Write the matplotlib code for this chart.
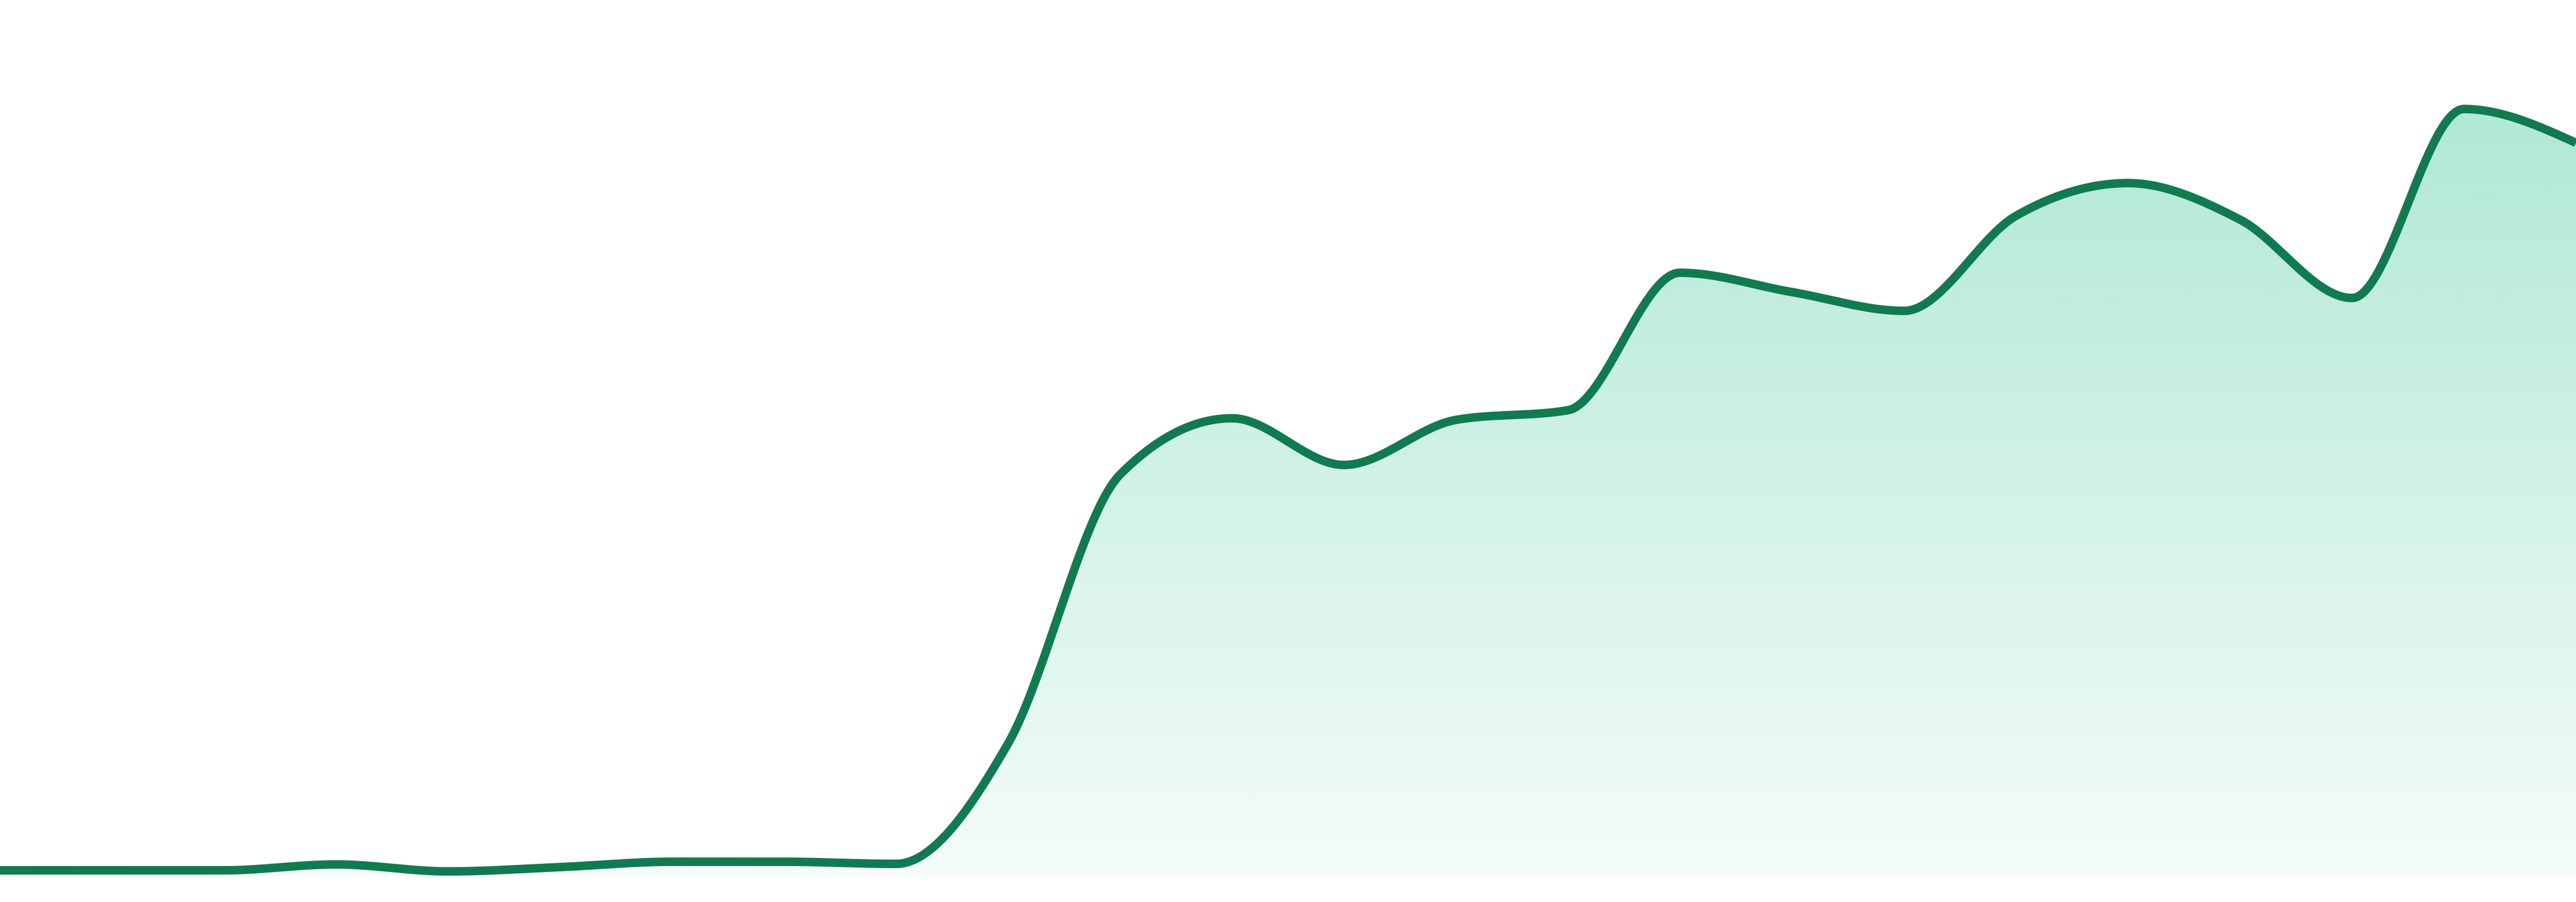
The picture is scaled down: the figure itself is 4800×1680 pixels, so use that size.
import numpy as np
import matplotlib.pyplot as plt
from matplotlib.patches import Polygon

# ------------------ Data ------------------
hours = list(range(24))
values = [1.1, 1.1, 1.1, 2.2, 0.9, 1.7, 2.7, 2.7, 2.3, 24.7, 74.8, 85.3,
          76.6, 85.0, 86.8, 112.4, 108.8, 105.3, 123.0, 129.1, 122.3, 107.7, 142.9, 136.6]

y_min, y_max = -4.8, 163.2
line_color = "#117a51"
fill_rgb = (16 / 255, 185 / 255, 129 / 255)


# ------------------ Monotone cubic (like d3 curveMonotoneX) ------------------
def monotone_curve(x, y, steps=60):
    x = np.asarray(x, dtype=float)
    y = np.asarray(y, dtype=float)
    n = len(x)
    h = np.diff(x)
    s = np.diff(y) / h
    m = np.zeros(n)
    for i in range(1, n - 1):
        p = (s[i - 1] * h[i] + s[i] * h[i - 1]) / (h[i - 1] + h[i])
        m[i] = (np.sign(s[i - 1]) + np.sign(s[i])) * min(abs(s[i - 1]), abs(s[i]), 0.5 * abs(p))
    m[0] = (3 * s[0] - m[1]) / 2
    m[-1] = (3 * s[-1] - m[-2]) / 2

    xs, ys = [], []
    for i in range(n - 1):
        t = np.linspace(0, 1, steps, endpoint=(i == n - 2))
        h00 = 2 * t**3 - 3 * t**2 + 1
        h10 = t**3 - 2 * t**2 + t
        h01 = -2 * t**3 + 3 * t**2
        h11 = t**3 - t**2
        xs.append(x[i] + t * h[i])
        ys.append(h00 * y[i] + h10 * h[i] * m[i] + h01 * y[i + 1] + h11 * h[i] * m[i + 1])
    return np.concatenate(xs), np.concatenate(ys)


sx, sy = monotone_curve(hours, values)

# ------------------ Plot ------------------
fig = plt.figure(figsize=(16, 5.6), dpi=300)
ax = fig.add_axes([0, 0, 1, 1])
ax.set_xlim(hours[0], hours[-1])
ax.set_ylim(y_min, y_max)
ax.axis("off")

# gradient area under the line, down to zero
grad = np.zeros((256, 1, 4))
grad[:, 0, 0] = fill_rgb[0]
grad[:, 0, 1] = fill_rgb[1]
grad[:, 0, 2] = fill_rgb[2]
grad[:, 0, 3] = np.linspace(0.37, 0.035, 256)
img = ax.imshow(grad, extent=[hours[0], hours[-1], y_min, y_max], origin="upper",
                aspect="auto", interpolation="bilinear", zorder=1)
poly = Polygon(np.column_stack([np.r_[sx, sx[-1], sx[0]], np.r_[sy, 0, 0]]),
               closed=True, facecolor="none", edgecolor="none")
ax.add_patch(poly)
img.set_clip_path(poly)

ax.plot(sx, sy, color=line_color, linewidth=3.8, solid_capstyle="butt", zorder=2)

plt.savefig("out.png", dpi=300, facecolor="white")
